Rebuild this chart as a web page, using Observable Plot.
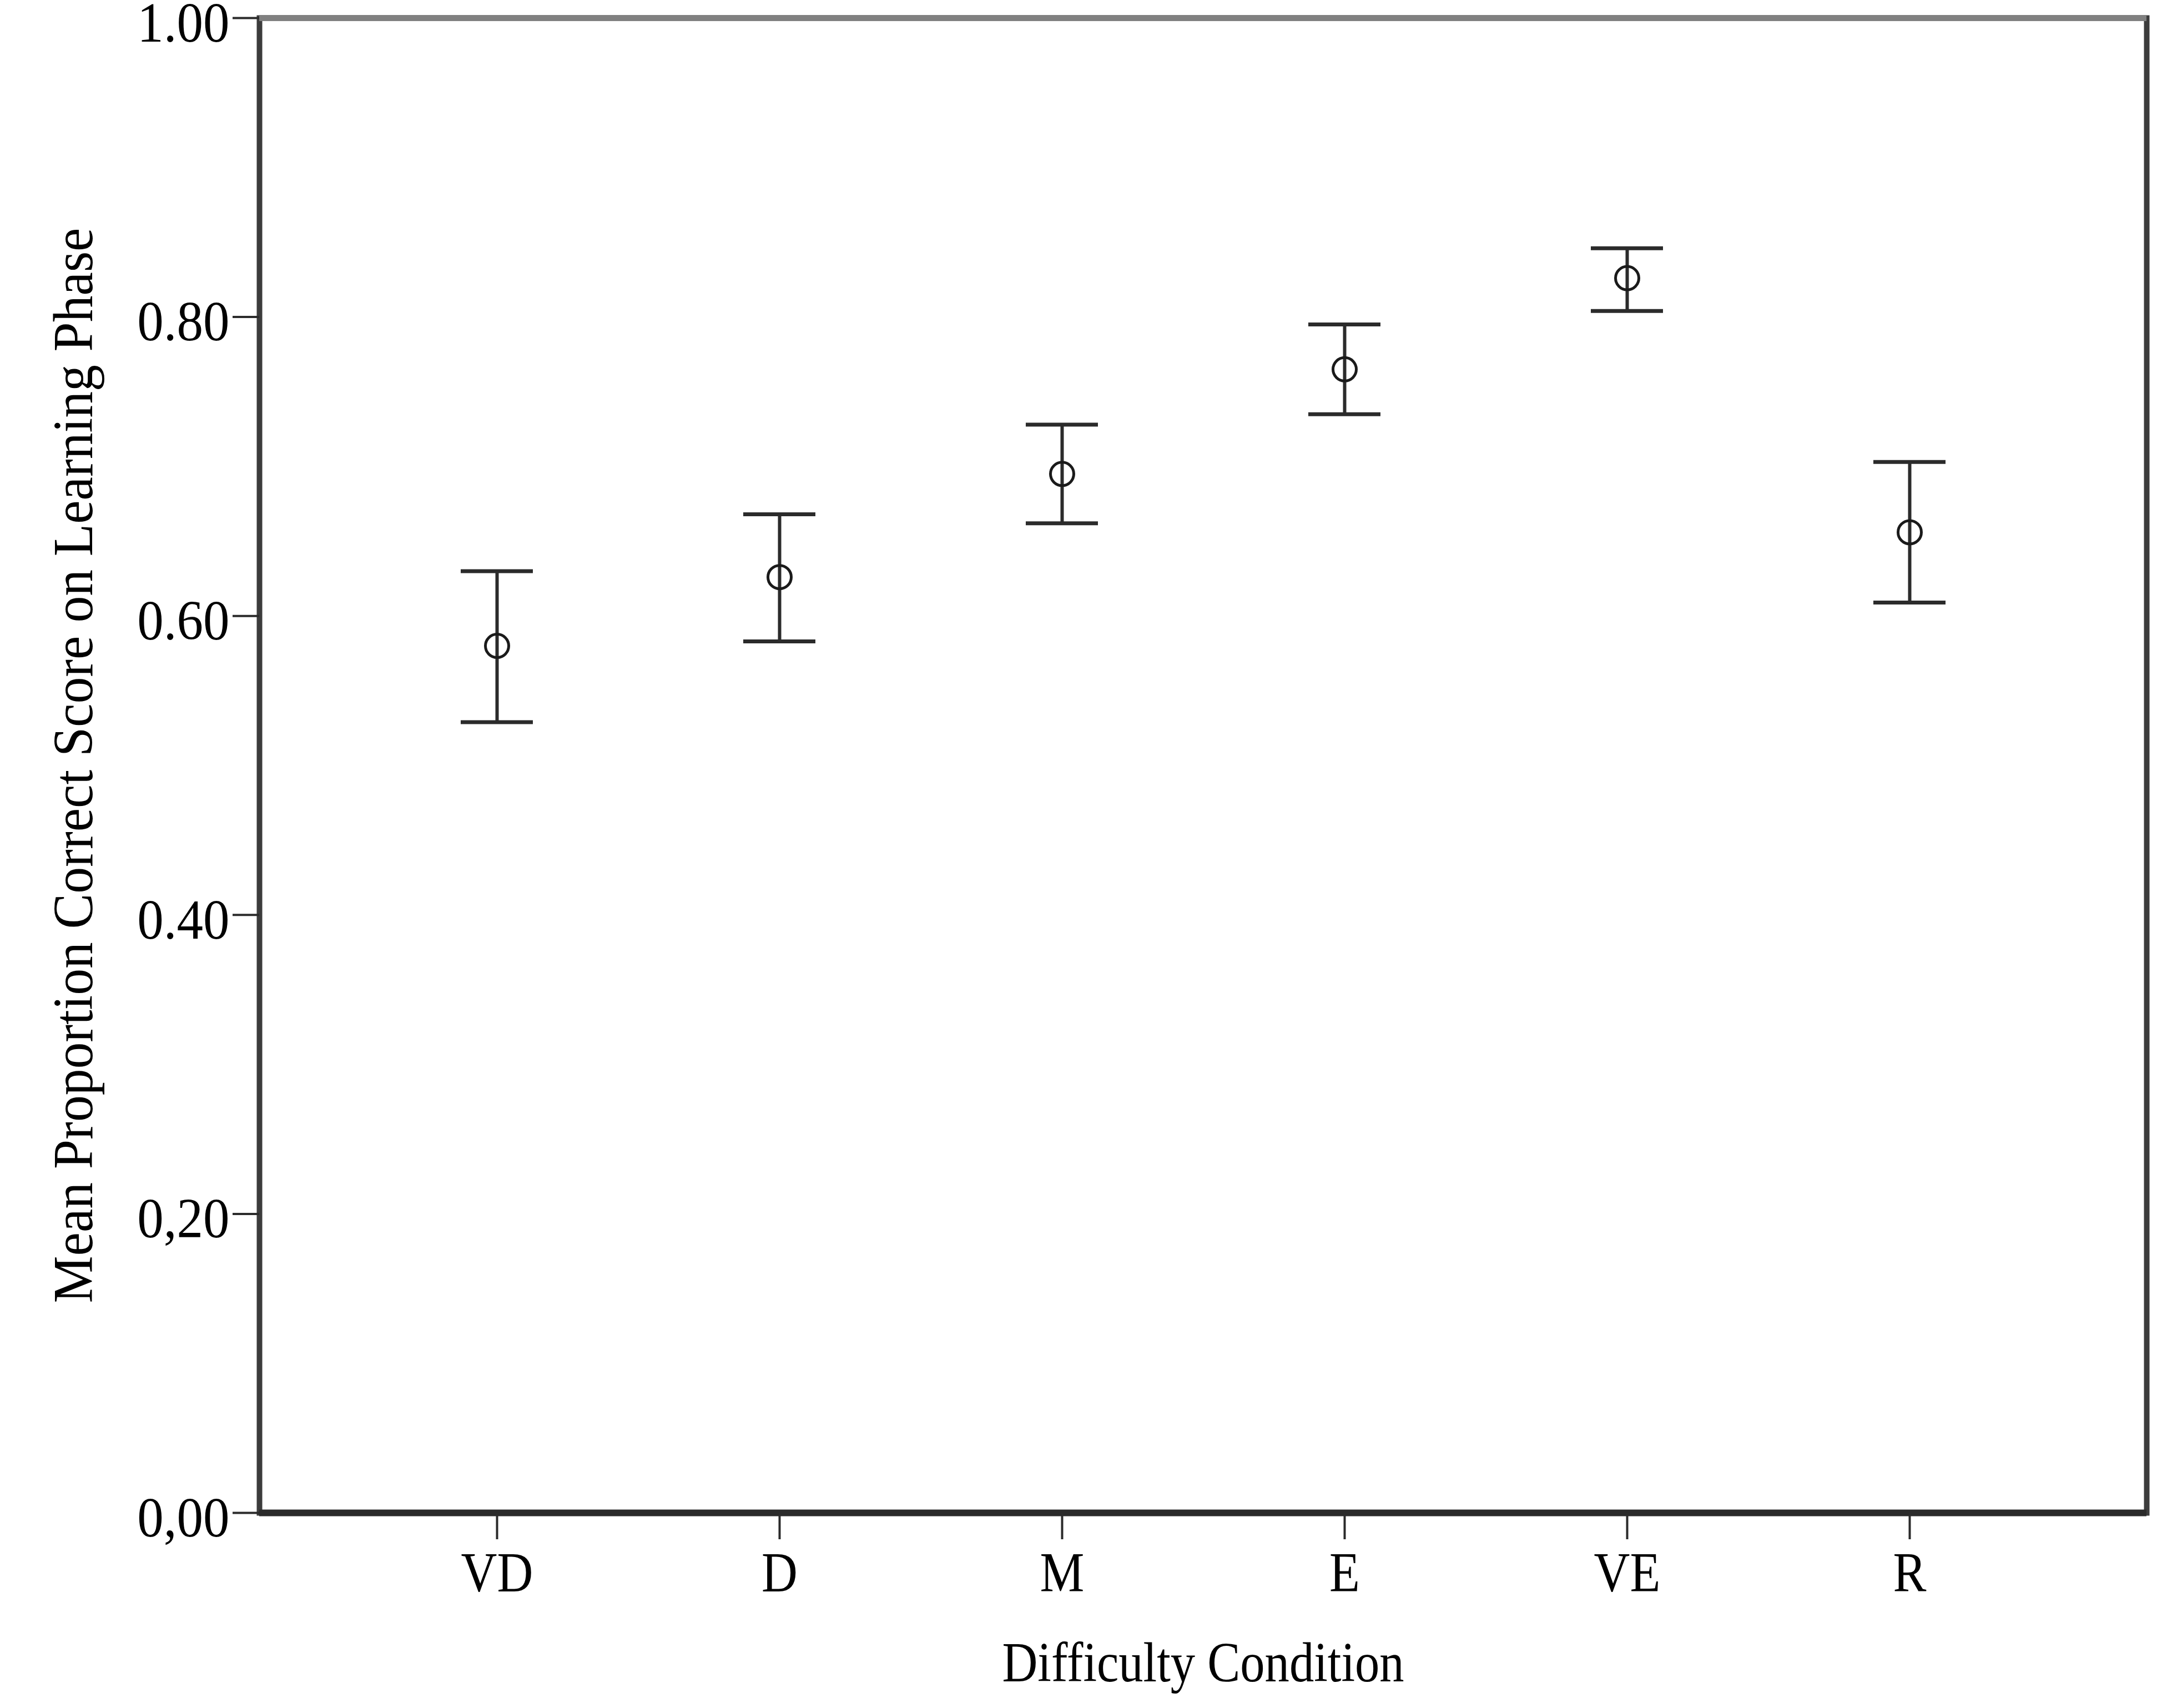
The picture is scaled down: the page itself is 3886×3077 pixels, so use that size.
<!DOCTYPE html>
<html><head><meta charset="utf-8">
<script src="https://cdn.jsdelivr.net/npm/d3@7"></script>
<script src="https://cdn.jsdelivr.net/npm/@observablehq/plot@0.6"></script>
<style>html,body{margin:0;padding:0;background:#fff;} #chart svg{display:block}</style>
</head><body><div id="chart"></div>
<script>
const conditions = ["VD", "D", "M", "E", "VE", "R"];
const means = [0.580, 0.626, 0.695, 0.765, 0.826, 0.656];
const lower = [0.529, 0.583, 0.662, 0.735, 0.804, 0.609];
const upper = [0.630, 0.668, 0.728, 0.795, 0.846, 0.703];
const yTicks = [0, 0.2, 0.4, 0.6, 0.8, 1.0];
const yTickLabels = ["0,00", "0,20", "0.40", "0.60", "0.80", "1.00"];
const xTitle = "Difficulty Condition";
const yTitle = "Mean Proportion Correct Score on Learning Phase";

const data = conditions.map((c, i) => ({condition: c, mean: means[i], lower: lower[i], upper: upper[i]}));

const ink = "#2b2b2b";
const chart = Plot.plot({
  width: 3886, height: 3077,
  marginLeft: 467, marginRight: 19, marginTop: 32, marginBottom: 352,
  style: {fontFamily: "'Liberation Serif', 'Times New Roman', serif", background: "#fff", color: "#000"},
  x: {type: "band", domain: conditions, paddingInner: 0.745, paddingOuter: 0.706, label: null},
  y: {domain: [0, 1], label: null},
  marks: [
    Plot.frame({stroke: "#3c3c3c", strokeWidth: 10}),
    Plot.ruleY([1], {stroke: "#808080", strokeWidth: 11}),
    Plot.ruleY([0], {stroke: "#2a2a2a", strokeWidth: 12}),
    Plot.ruleX(data, {x: "condition", y1: "lower", y2: "upper", stroke: ink, strokeWidth: 6}),
    Plot.tickY(data, {x: "condition", y: "upper", stroke: ink, strokeWidth: 7}),
    Plot.tickY(data, {x: "condition", y: "lower", stroke: ink, strokeWidth: 7}),
    Plot.dot(data, {x: "condition", y: "mean", r: 21, fill: "none", stroke: "#1a1a1a", strokeWidth: 5}),
    Plot.axisY({ticks: yTicks, tickFormat: d => yTickLabels[yTicks.indexOf(d)], tickSize: 48, tickPadding: 6,
      strokeWidth: 4, stroke: ink, fontSize: 101, label: yTitle, labelArrow: "none", labelAnchor: "center", labelOffset: 373}),
    Plot.axisX({tickSize: 48, tickPadding: 22, strokeWidth: 4, stroke: ink, fontSize: 101,
      label: xTitle, labelArrow: "none", labelAnchor: "center", labelOffset: 303})
  ]
});
document.getElementById("chart").append(chart);
// strip any direction arrow that an older Plot build may add to axis labels
d3.select(chart).selectAll('g[aria-label="y-axis label"] text, g[aria-label="x-axis label"] text').each(function () {
  const s = this.textContent.replace(/\s*[↑↓←→]\s*/g, "").trim();
  if (s !== this.textContent) this.textContent = s;
});
const squeeze = {"x-axis tick label": 0.89, "y-axis tick label": 0.94, "x-axis label": 0.877, "y-axis label": 0.946};
for (const [name, k] of Object.entries(squeeze)) {
  d3.select(chart).selectAll(`g[aria-label="${name}"] text`).each(function () {
    const L = this.getComputedTextLength();
    if (L > 0) { this.setAttribute("textLength", L * k); this.setAttribute("lengthAdjust", "spacingAndGlyphs"); }
  });
}
d3.select(chart).selectAll('g[aria-label="y-axis tick label"]').each(function () {
  const t = this.getAttribute("transform") || "";
  this.setAttribute("transform", (t + " translate(0,10)").trim());
});
</script>
</body></html>
